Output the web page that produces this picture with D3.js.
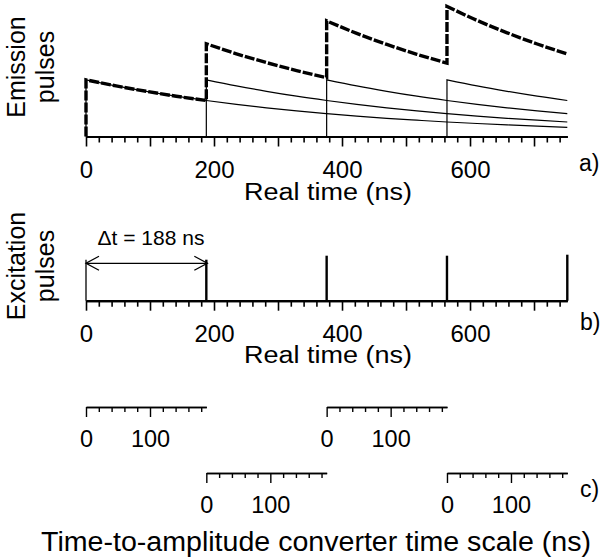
<!DOCTYPE html>
<html>
<head>
<meta charset="utf-8">
<script src="https://cdn.jsdelivr.net/npm/d3@7"></script>
<style>
  html, body { margin: 0; padding: 0; background: #fff; }
  svg { display: block; }
  text { font-family: "Liberation Sans", Arial, Helvetica, sans-serif; fill: #000; }
</style>
</head>
<body>
<svg id="chart" width="601" height="559"></svg>
<script>
// ---------------- data ----------------
const emissionStarts = [0, 188, 376, 564];            // ns, start of each emission pulse
const decayAges = [0, 47, 94, 141, 188, 235, 282, 329, 376, 423, 470, 517, 564, 611, 658, 705, 752]; // ns after excitation
const decayValues = [56.7, 50.6, 45.2, 40.3, 36.0, 32.1, 28.7, 25.6, 22.9, 20.4, 18.2, 16.3, 14.5, 13.0, 11.6, 10.3, 9.2]; // single-pulse emission (a.u.)
const excitationTimes = [0, 188, 376, 564, 752];      // ns
const excitationHeights = [41, 41, 45, 45, 46];       // a.u.
const tacOffsets = [0, 188, 376, 564];                // ns, start of each TAC window
const tacWindow = 188;                                // ns
const realTickLabels = [0, 200, 400, 600];
const tacTickLabels = [0, 100];
const deltaLabel = "\u0394t = 188 ns";

// ---------------- layout ----------------
const svg = d3.select("#chart");
svg.append("rect").attr("width", 601).attr("height", 559).attr("fill", "#fff");

const x = d3.scaleLinear().domain([0, 752]).range([86, 567.3]);
const yA = d3.scaleLinear().domain([0, 130]).range([136.5, 6.5]);
const yB = d3.scaleLinear().domain([0, 50]).range([300.7, 250.7]);

const font = "Liberation Sans, Arial, sans-serif";

function mainAxis(y0, labels) {
  const g = svg.append("g").attr("transform", `translate(0,${y0})`);
  const minor = d3.axisBottom(x)
    .tickValues(d3.range(0, 741, 20).filter(v => v % 100 !== 0))
    .tickSize(6).tickSizeOuter(0).tickFormat("");
  const major = d3.axisBottom(x)
    .tickValues(d3.range(0, 701, 100))
    .tickSize(10).tickSizeOuter(0)
    .tickFormat(d => labels.includes(d) ? d : "");
  const gm = g.append("g").call(minor);
  const gM = g.append("g").call(major);
  [gm, gM].forEach(s => {
    s.select(".domain").attr("stroke", "#000").attr("stroke-width", 2.2);
    s.selectAll(".tick line").attr("stroke", "#000").attr("stroke-width", 1.6);
  });
  gM.selectAll(".tick text")
    .attr("y", 41.5).attr("dy", 0)
    .attr("font-size", 24).attr("font-family", font).attr("fill", "#000");
  return g;
}

function tacAxis(offset, y0) {
  const s = d3.scaleLinear().domain([0, tacWindow]).range([x(offset), x(offset + tacWindow)]);
  const g = svg.append("g").attr("transform", `translate(0,${y0})`);
  const minor = d3.axisBottom(s)
    .tickValues(d3.range(0, 181, 20).filter(v => v % 100 !== 0))
    .tickSize(5).tickSizeOuter(0).tickFormat("");
  const major = d3.axisBottom(s)
    .tickValues(tacTickLabels)
    .tickSize(10).tickSizeOuter(0);
  const gm = g.append("g").call(minor);
  const gM = g.append("g").call(major);
  [gm, gM].forEach(a => {
    a.select(".domain").attr("stroke", "#000").attr("stroke-width", 1.6);
    a.selectAll(".tick line").attr("stroke", "#000").attr("stroke-width", 1.4);
  });
  gM.selectAll(".tick text")
    .attr("y", 40).attr("dy", 0)
    .attr("font-size", 23.5).attr("font-family", font).attr("fill", "#000");
}

function title(xc, yb, str, size, len) {
  svg.append("text").attr("x", xc).attr("y", yb).attr("text-anchor", "middle")
    .attr("font-size", size).attr("textLength", len).attr("lengthAdjust", "spacingAndGlyphs")
    .text(str);
}

// ---------------- panel a: emission ----------------
const line = d3.line().x(d => x(d[0])).y(d => yA(d[1])).curve(d3.curveMonotoneX);

// thin individual pulses
emissionStarts.forEach((t0, k) => {
  const pts = [];
  decayAges.forEach((a, i) => { if (t0 + a <= 752) pts.push([t0 + a, decayValues[i]]); });
  const d = `M${x(t0)},${yA(0)}L${x(t0)},${yA(decayValues[0])}` + line(pts).replace(/^M/, "L");
  svg.append("path").attr("d", d).attr("fill", "none")
    .attr("stroke", "#000").attr("stroke-width", 1.2);
});

// sum (thick dashed)
function sumAt(t, includeStartAt) {
  let s = 0;
  emissionStarts.forEach(t0 => {
    if (t0 < t || (includeStartAt && t0 === t)) {
      const i = decayAges.indexOf(t - t0);
      if (i >= 0) s += decayValues[i];
    }
  });
  return s;
}
let sumPath = `M${x(0)},${yA(0)}`;
emissionStarts.forEach((t0, k) => {
  const tEnd = k < emissionStarts.length - 1 ? emissionStarts[k + 1] : 752;
  sumPath += `L${x(t0)},${yA(sumAt(t0, true))}`;
  const pts = [];
  decayAges.forEach(a => {
    const t = t0 + a;
    if (t <= tEnd) pts.push([t, a === 0 ? sumAt(t, true) : sumAt(t, false)]);
  });
  sumPath += line(pts).replace(/^M/, "L");
});
svg.append("path").attr("d", sumPath).attr("fill", "none")
  .attr("stroke", "#000").attr("stroke-width", 3.4)
  .attr("stroke-dasharray", "10,2");

mainAxis(yA(0), realTickLabels);

title(328, 199.5, "Real time (ns)", 23.5, 168);
svg.append("text").attr("x", 579).attr("y", 171).attr("font-size", 23).text("a)");

svg.append("text").attr("transform", "translate(25,67) rotate(-90)")
  .attr("text-anchor", "middle").attr("font-size", 25).text("Emission");
svg.append("text").attr("transform", "translate(53.5,67) rotate(-90)")
  .attr("text-anchor", "middle").attr("font-size", 25).text("pulses");

// ---------------- panel b: excitation ----------------
excitationTimes.forEach((t, i) => {
  svg.append("line")
    .attr("x1", x(t)).attr("x2", x(t))
    .attr("y1", yB(0)).attr("y2", yB(excitationHeights[i]))
    .attr("stroke", "#000").attr("stroke-width", i === 0 ? 1.3 : 2.4);
});

mainAxis(yB(0), realTickLabels);

// delta t arrow
const ay = 263.3;
const ax0 = x(excitationTimes[0]), ax1 = x(excitationTimes[1]) + 1;
svg.append("line").attr("x1", ax0).attr("x2", ax1).attr("y1", ay).attr("y2", ay)
  .attr("stroke", "#000").attr("stroke-width", 1.2);
svg.append("path").attr("d", `M${ax0 + 13},${ay - 7}L${ax0},${ay}L${ax0 + 13},${ay + 7}`)
  .attr("fill", "none").attr("stroke", "#000").attr("stroke-width", 1.3);
svg.append("path").attr("d", `M${ax1 - 13},${ay - 7}L${ax1},${ay}L${ax1 - 13},${ay + 7}`)
  .attr("fill", "none").attr("stroke", "#000").attr("stroke-width", 1.3);
svg.append("text").attr("x", 151).attr("y", 245).attr("text-anchor", "middle")
  .attr("font-size", 21).text(deltaLabel);

title(328, 363, "Real time (ns)", 23.5, 168);
svg.append("text").attr("x", 580).attr("y", 330).attr("font-size", 23).text("b)");

svg.append("text").attr("transform", "translate(25,266) rotate(-90)")
  .attr("text-anchor", "middle").attr("font-size", 25).text("Excitation");
svg.append("text").attr("transform", "translate(53.5,266) rotate(-90)")
  .attr("text-anchor", "middle").attr("font-size", 25).text("pulses");

// ---------------- panel c: TAC scales ----------------
tacOffsets.forEach((o, i) => tacAxis(o, i % 2 === 0 ? 407 : 473));
svg.append("text").attr("x", 580).attr("y", 497).attr("font-size", 23).text("c)");
title(316, 551, "Time-to-amplitude converter time scale (ns)", 27, 550);
</script>
</body>
</html>
